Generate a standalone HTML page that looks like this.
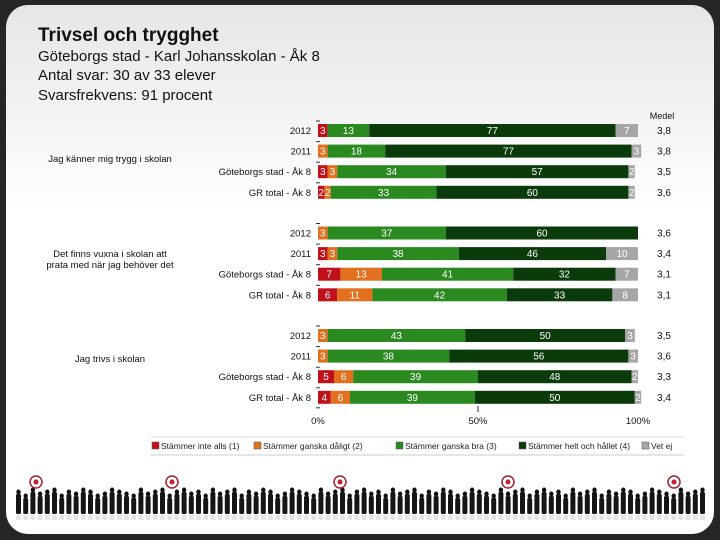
<!DOCTYPE html>
<html><head><meta charset="utf-8"><style>
html,body{margin:0;padding:0;width:720px;height:540px;overflow:hidden;background:#262626;font-family:"Liberation Sans",sans-serif}
#frame{position:absolute;left:6px;top:5px;width:708px;height:529px;border-radius:22px;background:linear-gradient(#e6e6e6 0px,#f2f2f2 100px,#ffffff 200px)}
.t{position:absolute;left:38px;color:#111;white-space:nowrap}
</style></head><body>
<div id="frame"></div>
<div class="t" style="top:25px;font-size:19px;font-weight:bold">Trivsel och trygghet</div>
<div class="t" style="top:48px;font-size:15px">Göteborgs stad - Karl Johansskolan - Åk 8</div>
<div class="t" style="top:67px;font-size:15px">Antal svar: 30 av 33 elever</div>
<div class="t" style="top:87px;font-size:15px">Svarsfrekvens: 91 procent</div>
<svg id="chart" width="720" height="540" style="position:absolute;left:0;top:0"></svg>
<script>
const questions=["Jag känner mig trygg i skolan","Det finns vuxna i skolan att prata med när jag behöver det","Jag trivs i skolan"];
const groups=["2012","2011","Göteborgs stad - Åk 8","GR total - Åk 8"];
const s1=[3,0,3,2, 0,3,7,6, 0,0,5,4];
const s2=[0,3,3,2, 3,3,13,11, 3,3,6,6];
const s3=[13,18,34,33, 37,38,41,42, 43,38,39,39];
const s4=[77,77,57,60, 60,46,32,33, 50,56,48,50];
const s5=[7,3,2,2, 0,10,7,8, 3,3,2,2];
const medel=["3,8","3,8","3,5","3,6","3,6","3,4","3,1","3,1","3,5","3,6","3,3","3,4"];
const seriesNames=["Stämmer inte alls (1)","Stämmer ganska dåligt (2)","Stämmer ganska bra (3)","Stämmer helt och hållet (4)","Vet ej"];
const colors=["#c0101a","#e2701f","#2a8a1f","#0b3a0b","#a6a6a6"];
const ticks=["0%","50%","100%"];
const NS="http://www.w3.org/2000/svg";
const svg=document.getElementById('chart');
const X0=318,X1=638;
const xs=p=>X0+(X1-X0)*p/100;
const rowY=i=>{const g=Math.floor(i/4),r=i%4;return 124+g*102.5+r*20.6;};
function el(tag,a,p){const e=document.createElementNS(NS,tag);for(const k in a)e.setAttribute(k,a[k]);(p||svg).appendChild(e);return e;}
const series=[s1,s2,s3,s4,s5];
for(let i=0;i<12;i++){
  const y=rowY(i);let acc=0;
  const lab=el('text',{x:311,y:y+10,'text-anchor':'end','font-size':9.5,fill:'#111'});
  lab.textContent=groups[i%4];
  
  
  el('line',{x1:316,x2:320,y1:y-3,y2:y-3,stroke:'#333','stroke-width':1});
  for(let s=0;s<5;s++){
    const v=series[s][i];const xa=xs(acc),xb=xs(acc+v);
    const r=el('rect',{x:xa,y:y,width:Math.max(0,xb-xa),height:13,fill:colors[s]});
    
    
    const t=el('text',{x:(v===0?xa+3:(xa+xb)/2),y:y+10,'text-anchor':'middle','font-size':10,fill:'#fff'});
    t.textContent=v;
    acc+=v;
  }
  const m=el('text',{x:664,y:y+10,'text-anchor':'middle','font-size':10,fill:'#111'});
  m.textContent=medel[i];
  
  
}
el('line',{x1:316,x2:320,y1:rowY(11)+17,y2:rowY(11)+17,stroke:'#333'});
const mh=el('text',{x:662,y:119,'text-anchor':'middle','font-size':9,fill:'#111'});mh.textContent="Medel";
const qy=[162,262,362];
questions.forEach((q,g)=>{
  const lines=g===1?["Det finns vuxna i skolan att","prata med när jag behöver det"]:[q];
  lines.forEach((ln,k)=>{const t=el('text',{x:110,y:qy[g]+k*11-(lines.length-1)*5,'text-anchor':'middle','font-size':9.5,fill:'#111'});t.textContent=ln;
  
  });
});
ticks.forEach((tk,k)=>{const x=xs(k*50);const t=el('text',{x:x,y:424,'text-anchor':'middle','font-size':9.5,fill:'#111'});t.textContent=tk;

});
el('line',{x1:xs(50),x2:xs(50),y1:406,y2:412,stroke:'#333'});
el('line',{x1:150,x2:684,y1:437,y2:437,stroke:'#ddd'});
el('line',{x1:150,x2:684,y1:455,y2:455,stroke:'#ccc'});
const lx=[152,254,396,519,642];
seriesNames.forEach((n,s)=>{
  const r=el('rect',{x:lx[s],y:442,width:7,height:7,fill:colors[s],stroke:'#555','stroke-width':0.5});
  
  
  const t=el('text',{x:lx[s]+9,y:449,'font-size':8.5,fill:'#222'});t.textContent=n;
  
  
});
// decorative silhouettes strip
const deco=el('g',{});


const hs=[0,2,1,3,0,2,1,0,3,1,2,0,1,3,2,0,1,2,3,0,2,1,0,3,1];
for(let x=16;x<705;x+=7.2){const k=Math.floor(x/7.2)%hs.length;const h=22-hs[k]*2;
  el('ellipse',{cx:x+2.5,cy:514-h-2,rx:2.2,ry:2.5,fill:'#111'},deco);
  el('rect',{x:x,y:514-h,width:5,height:h,rx:1.5,fill:'#151515'},deco);
  el('rect',{x:x,y:515,width:5,height:5,fill:'#ccc',opacity:0.5},deco);}
[36,172,340,508,674].forEach(cx=>{el('circle',{cx:cx,cy:482,r:6,fill:'none',stroke:'#a02030','stroke-width':1.5},deco);el('circle',{cx:cx,cy:482,r:2.5,fill:'#c02030'},deco);});
</script>
</body></html>
